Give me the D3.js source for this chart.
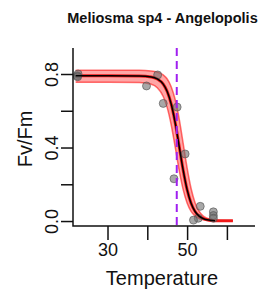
<!DOCTYPE html>
<html>
<head>
<meta charset="utf-8">
<script src="https://cdn.jsdelivr.net/npm/d3@7"></script>
<style>
	body { margin: 0; background: #fff; }
	svg { display: block; }
	text { font-family: 'Liberation Sans', Arial, sans-serif; fill: #111; }
</style>
</head>
<body>
<div id="root"></div>
<script>
// measured points
const tempObs = [22.4, 22.6, 22.5, 39.8, 42.6, 44.0, 47.5, 49.5, 46.7, 53.3, 52.8, 51.6, 56.6, 56.6, 56.6]
const fvfmObs = [0.79, 0.80, 0.785, 0.735, 0.795, 0.64, 0.62, 0.365, 0.23, 0.08, 0.015, 0.005, 0.05, 0.03, 0.015]

// fitted curve + band
const tempFit = [22, 30, 38, 41, 42.5, 44, 45, 46, 47, 48, 49, 50, 51, 52, 53, 54, 55, 57, 61.5]
const fvfmFit = [0.79, 0.79, 0.789, 0.784, 0.773, 0.745, 0.705, 0.637, 0.536, 0.408, 0.278, 0.171, 0.097, 0.052, 0.027, 0.014, 0.007, 0.002, 0.001]
const fvfmUpper = [0.82, 0.82, 0.82, 0.817, 0.811, 0.795, 0.773, 0.731, 0.661, 0.557, 0.424, 0.289, 0.177, 0.100, 0.054, 0.028, 0.015, 0.004, 0.001]
const fvfmLower = [0.755, 0.755, 0.754, 0.744, 0.725, 0.678, 0.617, 0.524, 0.403, 0.277, 0.172, 0.098, 0.053, 0.028, 0.014, 0.007, 0.004, 0.001, 0]
const blackEnd = 57

const t50 = 47.4
const xTicks = [30, 40, 50, 60]
const xLabels = [30, 50]
const yTicks = [0, 0.2, 0.4, 0.6, 0.8]
const yLabels = [0, 0.4, 0.8]

const W = 267, H = 295
const P = { left: 73, right: 255, top: 48, bottom: 226 }

const svg = d3.select('#root').append('svg')
	.attr('width', W)
	.attr('height', H)

const x = d3.scaleLinear()
	.domain([21.33, 67.06])
	.range([P.left, P.right])

const y = d3.scaleLinear()
	.domain([-0.027, 0.9415])
	.range([P.bottom, P.top])

const fit = tempFit.map((t, i) => ({ t, v: fvfmFit[i], hi: fvfmUpper[i], lo: fvfmLower[i] }))

svg.append('clipPath').attr('id', 'clip')
	.append('rect')
	.attr('x', P.left).attr('y', P.top)
	.attr('width', P.right - P.left).attr('height', P.bottom - P.top)

const plot = svg.append('g').attr('clip-path', 'url(#clip)')

// band
plot.append('path')
	.datum(fit)
	.attr('fill', 'rgba(255,0,0,0.35)')
	.attr('d', d3.area()
		.curve(d3.curveMonotoneX)
		.x(d => x(d.t))
		.y0(d => y(d.lo))
		.y1(d => y(d.hi)))

const line = key => d3.line()
	.curve(d3.curveMonotoneX)
	.x(d => x(d.t))
	.y(d => y(d[key]))

;['hi', 'lo'].forEach(k => {
	plot.append('path')
		.datum(fit)
		.attr('fill', 'none')
		.attr('stroke', 'rgba(255,0,0,0.55)')
		.attr('stroke-width', 1.5)
		.attr('d', line(k))
})

plot.append('path')
	.datum(fit)
	.attr('fill', 'none')
	.attr('stroke', '#f01818')
	.attr('stroke-width', 3)
	.attr('d', line('v'))

// points
plot.selectAll('.dot')
	.data(tempObs.map((t, i) => ({ t, v: fvfmObs[i] })))
	.enter()
	.append('circle')
	.attr('class', 'dot')
	.attr('cx', d => x(d.t))
	.attr('cy', d => y(d.v))
	.attr('r', 4)
	.attr('fill', 'rgba(110,110,110,0.6)')
	.attr('stroke', 'rgba(80,80,80,0.6)')
	.attr('stroke-width', 1)

plot.append('path')
	.datum(fit.filter(d => d.t <= blackEnd))
	.attr('fill', 'none')
	.attr('stroke', '#000')
	.attr('stroke-width', 1.5)
	.attr('d', line('v'))

// T50 line
svg.append('line')
	.attr('x1', x(t50)).attr('x2', x(t50))
	.attr('y1', P.top).attr('y2', P.bottom)
	.attr('stroke', '#a020f0')
	.attr('stroke-width', 2)
	.attr('stroke-dasharray', '8,5')

// axes
const axisX = d3.axisBottom(x)
	.tickValues(xTicks)
	.tickSize(14)
	.tickSizeOuter(0)
	.tickFormat(d => xLabels.includes(d) ? d : '')

const gx = svg.append('g')
	.attr('transform', `translate(0,${P.bottom})`)
	.call(axisX)

const axisY = d3.axisLeft(y)
	.tickValues(yTicks)
	.tickSize(12)
	.tickSizeOuter(0)
	.tickFormat(d => yLabels.includes(d) ? d3.format('.1f')(d) : '')

const gy = svg.append('g')
	.attr('transform', `translate(${P.left},0)`)
	.call(axisY)

;[gx, gy].forEach(g => {
	g.select('.domain').remove()
	g.selectAll('line').attr('stroke', '#111').attr('stroke-width', 1.5)
	g.selectAll('text')
		.attr('font-size', 18)
		.attr('fill', '#111')
		.style('font-family', "'Liberation Sans', Arial, sans-serif")
})

gx.selectAll('text').attr('y', 17).attr('dy', '0.71em')

gy.selectAll('text')
	.attr('x', null).attr('dy', null).attr('y', null)
	.attr('text-anchor', 'middle')
	.attr('transform', 'translate(-15,0) rotate(-90)')

// L box
svg.append('path')
	.attr('d', `M${P.left},${P.top}V${P.bottom}H${P.right}`)
	.attr('fill', 'none')
	.attr('stroke', '#111')
	.attr('stroke-width', 1.5)

// labels
svg.append('text')
	.attr('x', 162).attr('y', 284.5)
	.attr('text-anchor', 'middle')
	.attr('font-size', 20)
	.text('Temperature')

svg.append('text')
	.attr('transform', 'translate(32,139) rotate(-90)')
	.attr('text-anchor', 'middle')
	.attr('font-size', 20)
	.text('Fv/Fm')

svg.append('text')
	.attr('x', 162.5).attr('y', 22.5)
	.attr('text-anchor', 'middle')
	.attr('font-size', 14.5)
	.attr('font-weight', 'bold')
	.text('Meliosma sp4 - Angelopolis')
</script>
</body>
</html>
